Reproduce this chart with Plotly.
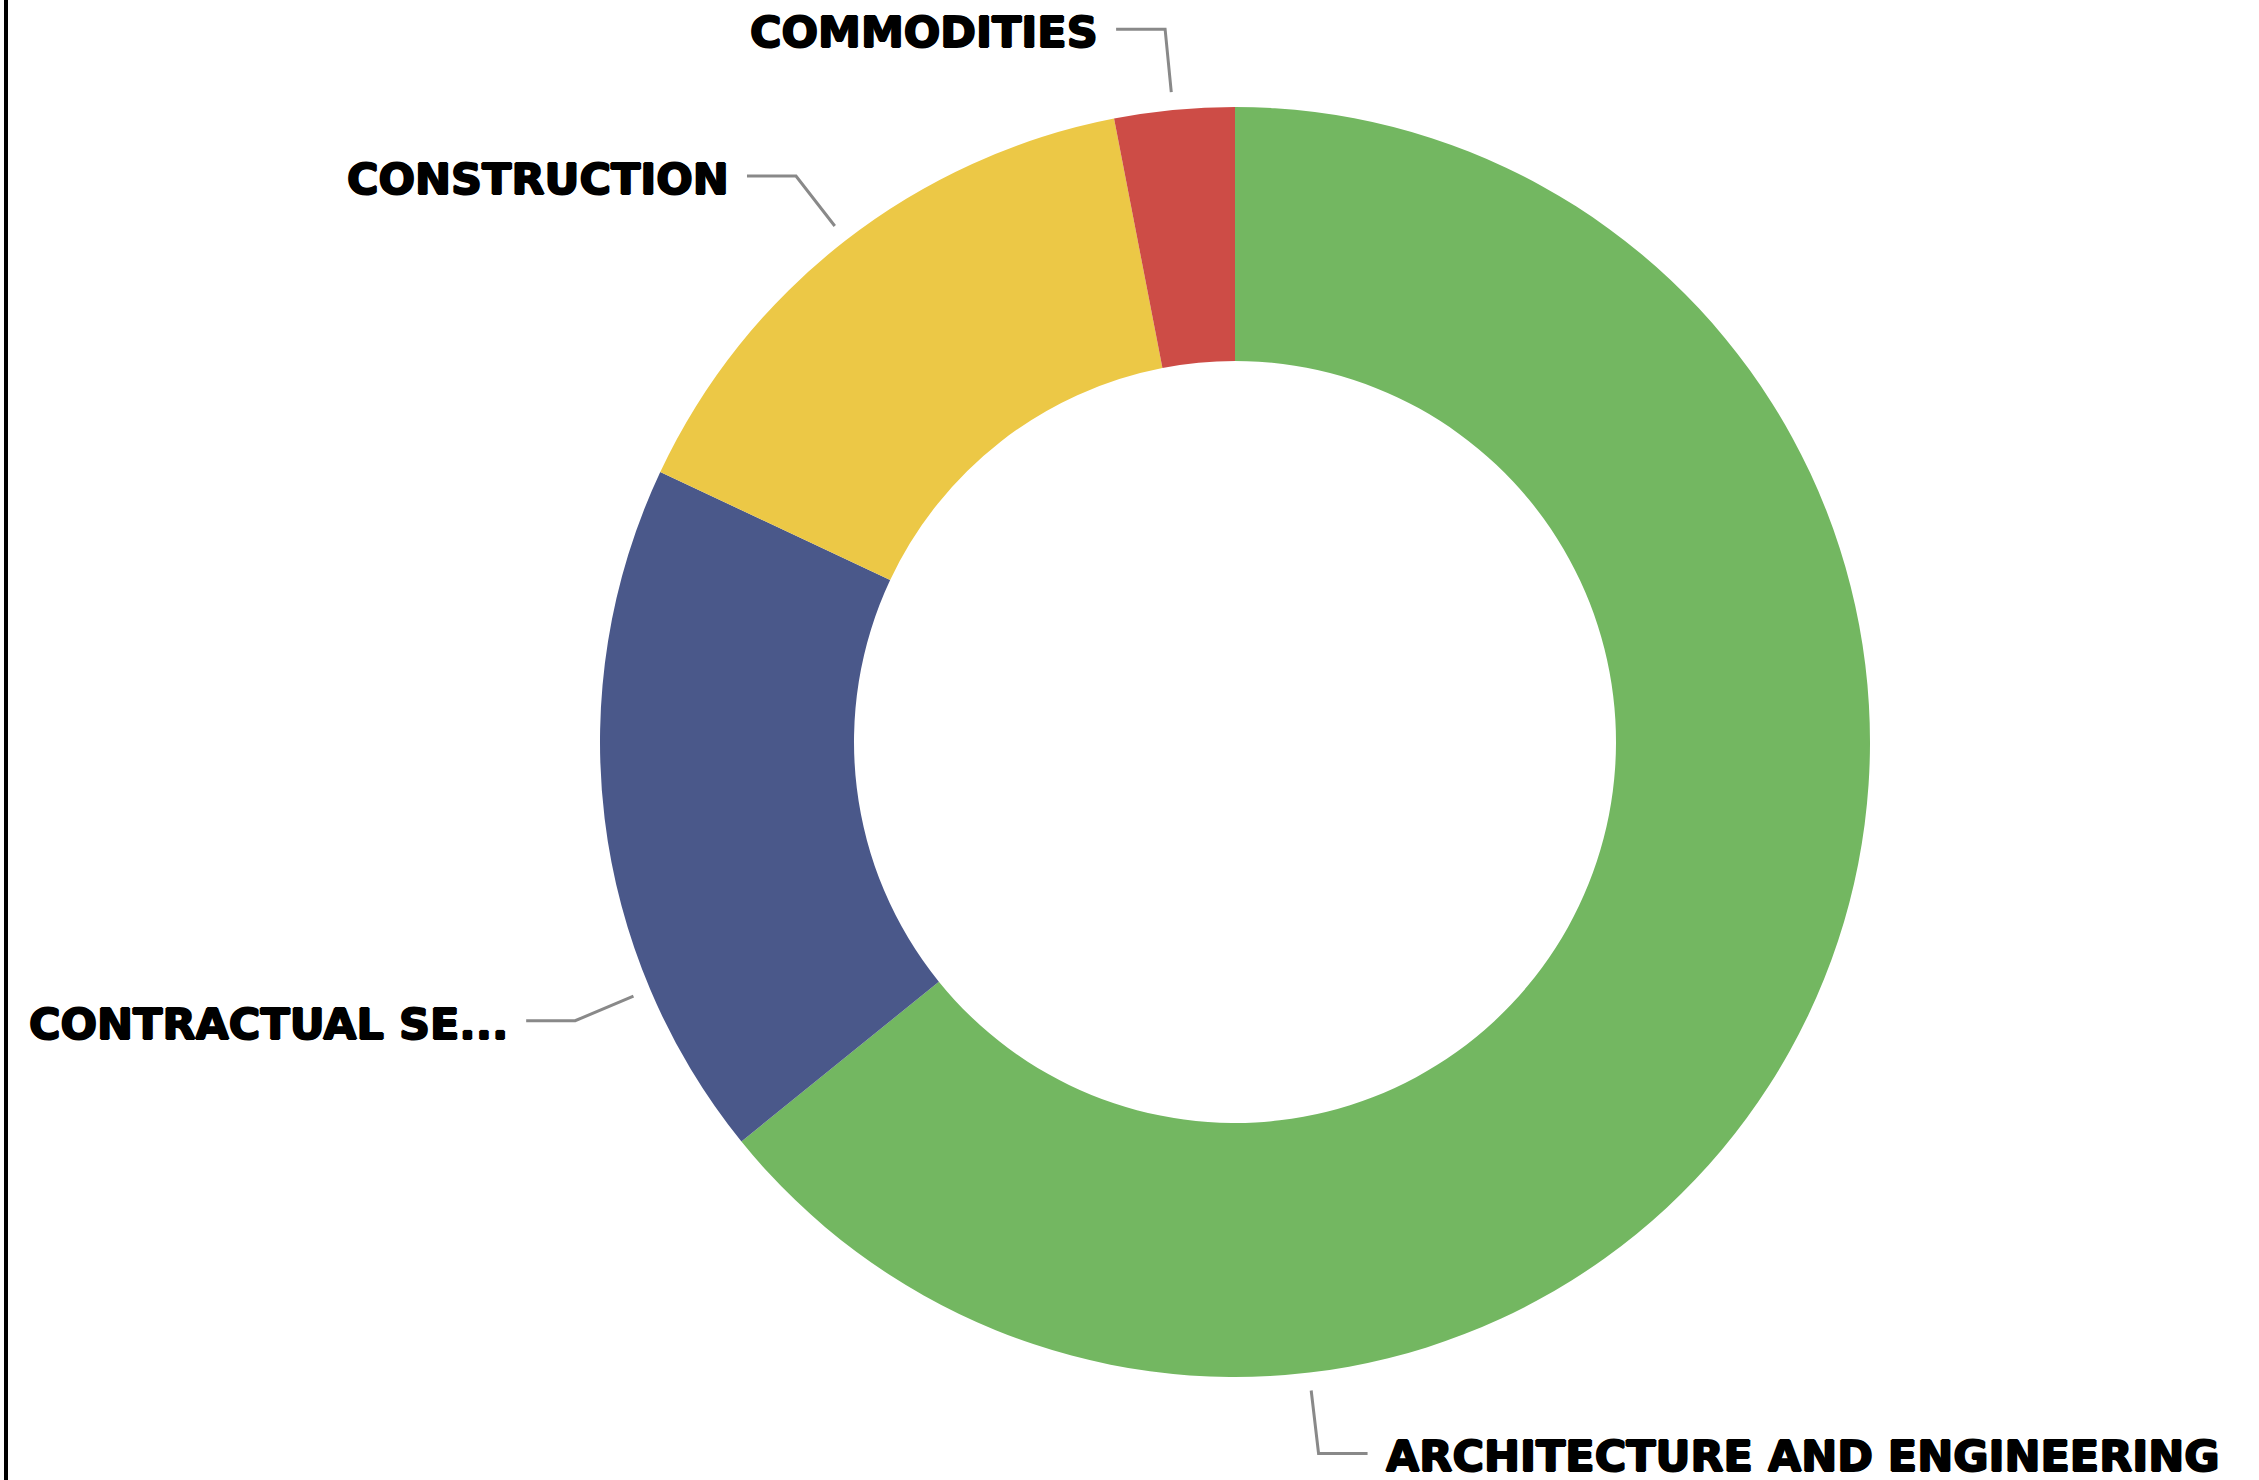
import math
import plotly.graph_objects as go

# ---- data ----
categories = ["ARCHITECTURE AND ENGINEERING", "CONTRACTUAL SE...", "CONSTRUCTION", "COMMODITIES"]
shares = [64.17, 17.82, 14.96, 3.05]
colors = ["#73B761", "#4A588A", "#ECC846", "#CD4C46"]

# ---- layout constants (pixels) ----
W, H = 2259, 1480
CX, CY, R = 1235, 742, 635          # donut centre / outer radius
HOLE = 0.6
# angle (deg, clockwise from 12 o'clock) at which each label's leader leaves the ring
leader_angles = [173.3, 247.1, 322.2, 354.4]
R_START, R_ELBOW = R + 18, R * 1.128
H_LEN, GAP = 49, 16
LINE_COL = "#898989"
FONT = dict(family="DejaVu Sans, Arial Black, sans-serif", size=43, color="black", weight="bold",
            shadow="1px 0 0 black, -1px 0 0 black, 0 1px 0 black, 0 -1px 0 black")


def px(x):
    return x / W


def py(y):
    return 1 - y / H


fig = go.Figure(go.Pie(
    labels=categories,
    values=shares,
    marker=dict(colors=colors, line=dict(width=0)),
    hole=HOLE,
    sort=False,
    direction="clockwise",
    rotation=0,
    textinfo="none",
    hoverinfo="label+percent",
    domain=dict(x=[px(CX - R), px(CX + R)], y=[py(CY + R), py(CY - R)]),
    showlegend=False,
))

shapes = []
annotations = []
for lab, ang in zip(categories, leader_angles):
    a = math.radians(ang)
    s, c = math.sin(a), math.cos(a)
    x0, y0 = CX + R_START * s, CY - R_START * c
    x1, y1 = CX + R_ELBOW * s, CY - R_ELBOW * c
    side = 1 if s >= 0 else -1
    x2 = x1 + side * H_LEN
    path = f"M {px(x0)} {py(y0)} L {px(x1)} {py(y1)} L {px(x2)} {py(y1)}"
    shapes.append(dict(type="path", path=path, xref="paper", yref="paper",
                       line=dict(color=LINE_COL, width=3)))
    annotations.append(dict(
        text=lab, x=px(x2 + side * GAP), y=py(y1), xref="paper", yref="paper",
        xanchor="left" if side > 0 else "right", yanchor="middle",
        showarrow=False, font=FONT, yshift=-3,
    ))

# left border line
shapes.append(dict(type="rect", xref="paper", yref="paper",
                   x0=px(4), x1=px(8), y0=0, y1=1,
                   fillcolor="black", line=dict(width=0)))

fig.update_layout(
    width=W, height=H,
    margin=dict(l=0, r=0, t=0, b=0),
    paper_bgcolor="white", plot_bgcolor="white",
    shapes=shapes, annotations=annotations,
)

fig.write_html("out.html", config={"displayModeBar": False},
               post_script="document.body.style.margin='0';")
